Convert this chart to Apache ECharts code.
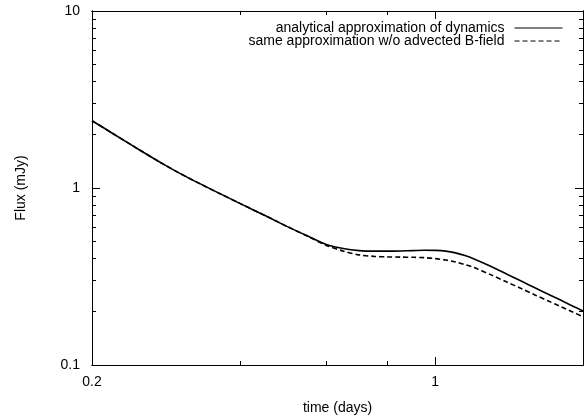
<!DOCTYPE html>
<html>
<head>
<meta charset="utf-8">
<script src="https://cdn.jsdelivr.net/npm/echarts@6/dist/echarts.min.js"></script>
<style>
  html, body { margin: 0; padding: 0; background: #fff; }
  #chart { width: 588px; height: 420px; }
</style>
</head>
<body>
<div id="chart"></div>
<script>
// time (days)
const timeDays = [0.2, 0.22, 0.25, 0.28, 0.3, 0.33, 0.36, 0.4, 0.45, 0.5, 0.55, 0.6, 0.65, 0.7, 0.75, 0.8,
  0.85, 0.9, 0.95, 1.0, 1.05, 1.1, 1.15, 1.2, 1.3, 1.4, 1.5, 1.6, 1.7, 1.8, 1.9, 2.0]
// analytical approximation of dynamics
const fluxFull = [2.40, 2.04, 1.64, 1.36, 1.222, 1.065, 0.945, 0.819, 0.699, 0.605, 0.535, 0.48, 0.455, 0.443, 0.44, 0.44,
  0.441, 0.443, 0.445, 0.444, 0.44, 0.43, 0.415, 0.397, 0.36, 0.326, 0.297, 0.272, 0.251, 0.233, 0.216, 0.202]
// same approximation w/o advected B-field
const fluxNoB = [2.40, 2.04, 1.64, 1.36, 1.222, 1.065, 0.945, 0.819, 0.699, 0.605, 0.534, 0.474, 0.44, 0.419, 0.411, 0.408,
  0.407, 0.406, 0.404, 0.399, 0.392, 0.382, 0.369, 0.355, 0.323, 0.294, 0.27, 0.248, 0.23, 0.214, 0.2, 0.1875]

const xMajor = [0.2, 1]
const xMinor = [0.4, 0.6, 0.8]
const yMajor = [0.1, 1, 10]
const yMinor = [0.2, 0.3, 0.4, 0.5, 0.6, 0.7, 0.8, 0.9, 2, 3, 4, 5, 6, 7, 8, 9]

const font = 'Liberation Sans'
const names = ['analytical approximation of dynamics', 'same approximation w/o advected B-field']

// one log axis; used several times to get gnuplot style major/minor ticks on all four sides
function logAxis (min, max, position, ticks, len, opts) {
  return Object.assign({
    type: 'log',
    logBase: 10,
    min: min,
    max: max,
    position: position,
    axisLine: { show: true, lineStyle: { color: '#000', width: 1 } },
    axisTick: { show: true, inside: true, length: len, customValues: ticks, lineStyle: { color: '#000', width: 1 } },
    axisLabel: { show: false },
    splitLine: { show: false },
    minorTick: { show: false },
    minorSplitLine: { show: false }
  }, opts || {})
}

const labelStyle = { show: true, color: '#000', fontFamily: font, fontSize: 14, formatter: v => String(+v) }

const option = {
  animation: false,
  backgroundColor: '#fff',
  grid: { left: 92, right: 5, top: 11, bottom: 54 },
  legend: {
    orient: 'vertical',
    align: 'right',
    right: 20,
    top: 16,
    itemWidth: 48,
    itemHeight: 12,
    itemGap: -1,
    textStyle: { color: '#000', fontFamily: font, fontSize: 14, padding: [0, 5, 0, 0] },
    lineStyle: { width: 1 },
    itemStyle: { color: 'rgba(0,0,0,0)', borderColor: 'rgba(0,0,0,0)', borderWidth: 0 },
    data: names
  },
  xAxis: [
    logAxis(0.2, 2, 'bottom', xMajor, 8, {
      axisLabel: Object.assign({ customValues: xMajor, margin: 10 }, labelStyle),
      name: 'time (days)',
      nameLocation: 'middle',
      nameGap: 36,
      nameTextStyle: { color: '#000', fontFamily: font, fontSize: 14 }
    }),
    logAxis(0.2, 2, 'bottom', xMinor, 4),
    logAxis(0.2, 2, 'top', xMajor, 8),
    logAxis(0.2, 2, 'top', xMinor, 4)
  ],
  yAxis: [
    logAxis(0.1, 10, 'left', yMajor, 8, {
      axisLabel: Object.assign({ customValues: yMajor, margin: 12 }, labelStyle),
      name: 'Flux (mJy)',
      nameLocation: 'middle',
      nameGap: 64,
      nameTextStyle: { color: '#000', fontFamily: font, fontSize: 14 }
    }),
    logAxis(0.1, 10, 'left', yMinor, 4),
    logAxis(0.1, 10, 'right', yMajor, 8),
    logAxis(0.1, 10, 'right', yMinor, 4)
  ],
  series: [
    {
      name: names[0],
      type: 'line',
      symbol: 'none',
      smooth: 0.3,
      lineStyle: { color: '#000', width: 1.6, type: 'solid' },
      itemStyle: { color: '#000' },
      data: timeDays.map((t, i) => [t, fluxFull[i]])
    },
    {
      name: names[1],
      type: 'line',
      symbol: 'none',
      smooth: 0.3,
      lineStyle: { color: '#000', width: 1.6, type: [5, 3] },
      itemStyle: { color: '#000' },
      data: timeDays.map((t, i) => [t, fluxNoB[i]])
    }
  ]
}

const myChart = echarts.init(document.getElementById('chart'), null, { renderer: 'canvas' })
myChart.setOption(option, true)
</script>
</body>
</html>
